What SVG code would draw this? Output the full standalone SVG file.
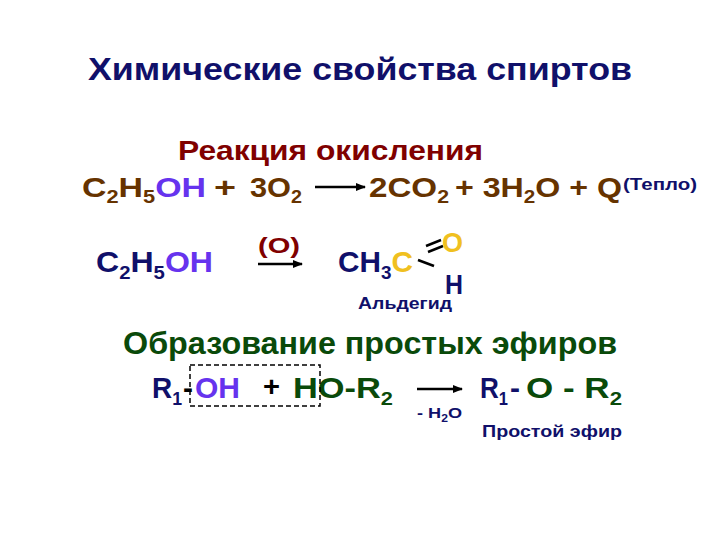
<svg xmlns="http://www.w3.org/2000/svg" width="720" height="540" viewBox="0 0 720 540">
<style>
text{font-family:"Liberation Sans",Arial,sans-serif;font-weight:bold}
.nv{fill:#10106a}.br{fill:#663300}.pu{fill:#6633ee}.rd{fill:#800000}.gr{fill:#0a4a0a}.yl{fill:#f0c020}
</style>
<defs><marker id="ah" viewBox="0 0 10 10" refX="9" refY="5" markerWidth="4" markerHeight="4" orient="auto"><path d="M0,1 L10,5 L0,9 z" fill="#000"/></marker></defs>
<rect width="720" height="540" fill="#fff"/>
<g id="title"><text x="88" y="80" font-size="31" class="nv" textLength="544" lengthAdjust="spacingAndGlyphs">Химические свойства спиртов</text></g>
<g id="oxidation">
<text x="178" y="160" font-size="27" class="rd" textLength="305" lengthAdjust="spacingAndGlyphs">Реакция окисления</text>
<text x="82" y="197" font-size="28" class="br" textLength="124" lengthAdjust="spacingAndGlyphs">C<tspan font-size="18" dy="6">2</tspan><tspan dy="-6">H</tspan><tspan font-size="18" dy="6">5</tspan><tspan dy="-6" class="pu">OH</tspan></text>
<text x="214" y="197" font-size="28" class="br" textLength="22" lengthAdjust="spacingAndGlyphs">+</text>
<text x="250" y="197" font-size="28" class="br" textLength="52" lengthAdjust="spacingAndGlyphs">3O<tspan font-size="18" dy="6">2</tspan></text>
<text x="369" y="197" font-size="28" class="br" textLength="80" lengthAdjust="spacingAndGlyphs">2CO<tspan font-size="18" dy="6">2</tspan></text>
<text x="455" y="197" font-size="28" class="br" textLength="167" lengthAdjust="spacingAndGlyphs">+ 3H<tspan font-size="18" dy="6">2</tspan><tspan dy="-6">O + Q</tspan></text>
<text x="623" y="190" font-size="16" class="nv" textLength="74" lengthAdjust="spacingAndGlyphs">(Тепло)</text>
</g>
<g id="aldehyde">
<text x="96" y="272" font-size="30" class="nv" textLength="117" lengthAdjust="spacingAndGlyphs">C<tspan font-size="19" dy="7">2</tspan><tspan dy="-7">H</tspan><tspan font-size="19" dy="7">5</tspan><tspan dy="-7" class="pu">OH</tspan></text>
<text x="258" y="253" font-size="22" class="rd" textLength="42" lengthAdjust="spacingAndGlyphs">(O)</text>
<text x="338" y="272" font-size="30" class="nv" textLength="75" lengthAdjust="spacingAndGlyphs">CH<tspan font-size="19" dy="7">3</tspan><tspan dy="-7" class="yl">C</tspan></text>
<text x="442" y="252" font-size="28" class="yl" textLength="21" lengthAdjust="spacingAndGlyphs">O</text>
<text x="445" y="294" font-size="28" class="nv" textLength="18" lengthAdjust="spacingAndGlyphs">H</text>
<text x="358" y="309" font-size="17" class="nv" textLength="94" lengthAdjust="spacingAndGlyphs">Альдегид</text>
</g>
<g id="ether">
<text x="123" y="354" font-size="31" class="gr" textLength="494" lengthAdjust="spacingAndGlyphs">Образование простых эфиров</text>
<text x="152" y="398" font-size="30" class="nv" textLength="30" lengthAdjust="spacingAndGlyphs">R<tspan font-size="19" dy="7">1</tspan></text>
<text x="183" y="398" font-size="30" fill="#000">-</text>
<text x="195" y="398" font-size="30" class="pu" textLength="45" lengthAdjust="spacingAndGlyphs">OH</text>
<text x="263" y="396" font-size="28" fill="#000" textLength="17" lengthAdjust="spacingAndGlyphs">+</text>
<text x="293" y="398" font-size="30" class="gr" textLength="100" lengthAdjust="spacingAndGlyphs">HO-R<tspan font-size="19" dy="7">2</tspan></text>
<text x="417" y="418" font-size="15" class="nv" textLength="45" lengthAdjust="spacingAndGlyphs">- H<tspan font-size="10" dy="4">2</tspan><tspan dy="-4">O</tspan></text>
<text x="480" y="398" font-size="30" class="nv" textLength="28" lengthAdjust="spacingAndGlyphs">R<tspan font-size="19" dy="7">1</tspan></text>
<text x="510" y="398" font-size="30" class="nv">-</text>
<text x="526" y="398" font-size="30" class="gr" textLength="96" lengthAdjust="spacingAndGlyphs">O - R<tspan font-size="19" dy="7">2</tspan></text>
<text x="482" y="437" font-size="17" class="nv" textLength="140" lengthAdjust="spacingAndGlyphs">Простой эфир</text>
</g>
<g id="connectors" stroke="#000" stroke-width="2.5" fill="none">
<line x1="315" y1="187" x2="365" y2="187" marker-end="url(#ah)"/>
<line x1="258" y1="264" x2="302" y2="264" marker-end="url(#ah)"/>
<line x1="426" y1="246" x2="441" y2="240"/>
<line x1="428" y1="252" x2="443" y2="246"/>
<line x1="418" y1="260" x2="434" y2="266"/>
<line x1="417" y1="389" x2="462" y2="389" marker-end="url(#ah)"/>
<rect x="190" y="365" width="130" height="41" stroke-width="1.5" stroke-dasharray="5,3"/>
</g>
</svg>
